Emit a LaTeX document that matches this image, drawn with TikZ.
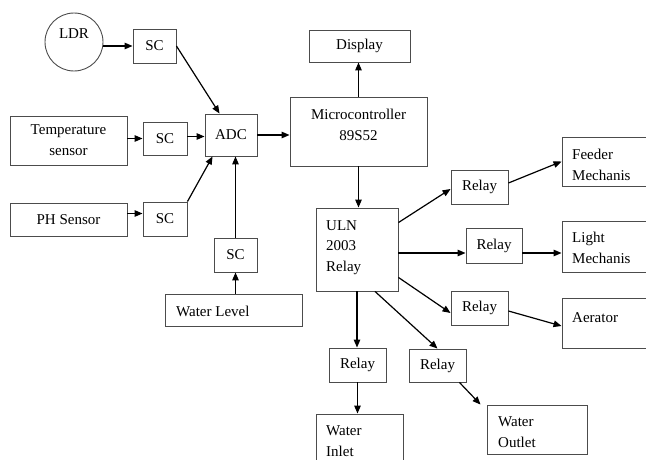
\documentclass[tikz,border=0pt]{standalone}
\usepackage{fontspec}
\setmainfont{Liberation Serif}
\usetikzlibrary{arrows.meta,calc}
\begin{document}
\begin{tikzpicture}[x=1pt,y=-1pt,
 box/.style={draw=black!70,line width=0.9pt,inner sep=0pt,font=\fontsize{15}{21}\selectfont,align=center},
 txt/.style={inner sep=0pt,font=\fontsize{15}{21}\selectfont,align=left,anchor=west},
 arr/.style={draw=black,line width=1.2pt,-{Triangle[length=8pt,width=6.5pt]}}]
\useasboundingbox (0,0) rectangle (646,460);
\clip (0,0) rectangle (646,460);
% left side
\node[box,circle,minimum size=58] (ldr) at (74,42) {};
\node[txt,anchor=center] (tldr) at (74,34) {LDR};
\node[box,minimum width=43,minimum height=34] (sc1) at (154.5,46) {SC};
\node[box,minimum width=117,minimum height=49] (temp) at (68.5,140.5) {Temperature\\sensor};
\node[box,minimum width=44,minimum height=33] (sc2) at (165,138.5) {SC};
\node[box,minimum width=52,minimum height=42] (adc) at (231,135) {ADC};
\node[box,minimum width=117,minimum height=33] (ph) at (68.5,219.5) {PH Sensor};
\node[box,minimum width=44,minimum height=34] (sc3) at (165,219) {SC};
\node[box,minimum width=43,minimum height=34] (sc4) at (235.5,255) {SC};
\node[box,minimum width=137,minimum height=32] (wl) at (233.5,310) {};
\node[txt] (twl) at (176,311) {Water Level};
% centre
\node[box,minimum width=137,minimum height=69] (micro) at (358.5,131.5) {};
\node[txt,anchor=center,align=center] (tmicro) at (358.5,125) {Microcontroller\\89S52};
\node[box,minimum width=101,minimum height=32] (display) at (359.5,46) {Display};
\node[box,minimum width=82,minimum height=83] (uln) at (357,249.5) {};
\node[txt,font=\fontsize{15}{20.5}\selectfont] (tuln) at (326,247.5) {ULN\\2003\\Relay};
% relays
\node[box,minimum width=57,minimum height=34] (r1) at (479.5,187) {Relay};
\node[box,minimum width=56,minimum height=35] (r2) at (494,245.5) {Relay};
\node[box,minimum width=57,minimum height=34] (r3) at (479.5,308) {Relay};
\node[box,minimum width=57,minimum height=34] (r4) at (357.5,365) {Relay};
\node[box,minimum width=57,minimum height=33] (r5) at (437.5,365.5) {Relay};
% outputs
\node[box,minimum width=90,minimum height=49] (feeder) at (607,161.5) {};
\node[txt] (tfeeder) at (572,164.5) {Feeder\\Mechanis};
\node[box,minimum width=90,minimum height=51] (light) at (607,246.5) {};
\node[txt] (tlight) at (572,247.5) {Light\\Mechanis};
\node[box,minimum width=90,minimum height=50] (aer) at (607,323) {};
\node[txt] (taer) at (572,318) {Aerator};
\node[box,minimum width=87,minimum height=70] (inlet) at (359.5,449) {};
\node[txt] (tinlet) at (326,441) {Water\\Inlet};
\node[box,minimum width=100,minimum height=49] (outlet) at (537,429.5) {};
\node[txt] (toutlet) at (498,432.5) {Water\\Outlet};
% connectors
\draw[arr] (ldr.east |- sc1.west) -- (sc1.west);
\draw[arr] (sc1.east) -- ([xshift=15pt]adc.north west);
\draw[arr] ([yshift=2pt]temp.east) -- ([yshift=2pt]temp.east -| sc2.west);
\draw[arr] ([yshift=2pt]sc2.east) -- ([yshift=2pt]sc2.east -| adc.west);
\draw[arr] (adc.east) -- (adc.east -| micro.west);
\draw[arr] ([yshift=6pt]ph.east) -- ([yshift=6pt]ph.east -| sc3.west);
\draw[arr] (sc3.north east) -- ([xshift=8pt]adc.south west);
\draw[arr] (sc4.north) -- (sc4.north |- adc.south);
\draw[arr] (sc4.south |- wl.north) -- (sc4.south);
\draw[arr] (micro.north) -- (micro.north |- display.south);
\draw[arr] (micro.south) -- (micro.south |- uln.north);
\draw[arr] ([yshift=-15pt]uln.north east) -- ([yshift=-2pt]r1.west);
\draw[arr] ([yshift=4pt]r1.east) -- (feeder.west);
\draw[arr] ([yshift=-7.5pt]r2.west -| uln.east) -- ([yshift=-7.5pt]r2.west);
\draw[arr] ([yshift=-7.5pt]r2.east) -- ([yshift=-7.5pt]r2.east -| light.west);
\draw[arr] ([yshift=14pt]uln.south east) -- ([yshift=-5pt]r3.west);
\draw[arr] ([yshift=-3pt]r3.east) -- ([yshift=-3pt]aer.west);
\draw[arr] (uln.south) -- (uln.south |- r4.north);
\draw[arr] ([xshift=18pt]uln.south) -- (r5.north);
\draw[arr] (r4.south) -- (r4.south |- inlet.north);
\draw[arr] ([xshift=-7pt]r5.south east) -- ([xshift=-6pt]outlet.north west);
\end{tikzpicture}
\end{document}
